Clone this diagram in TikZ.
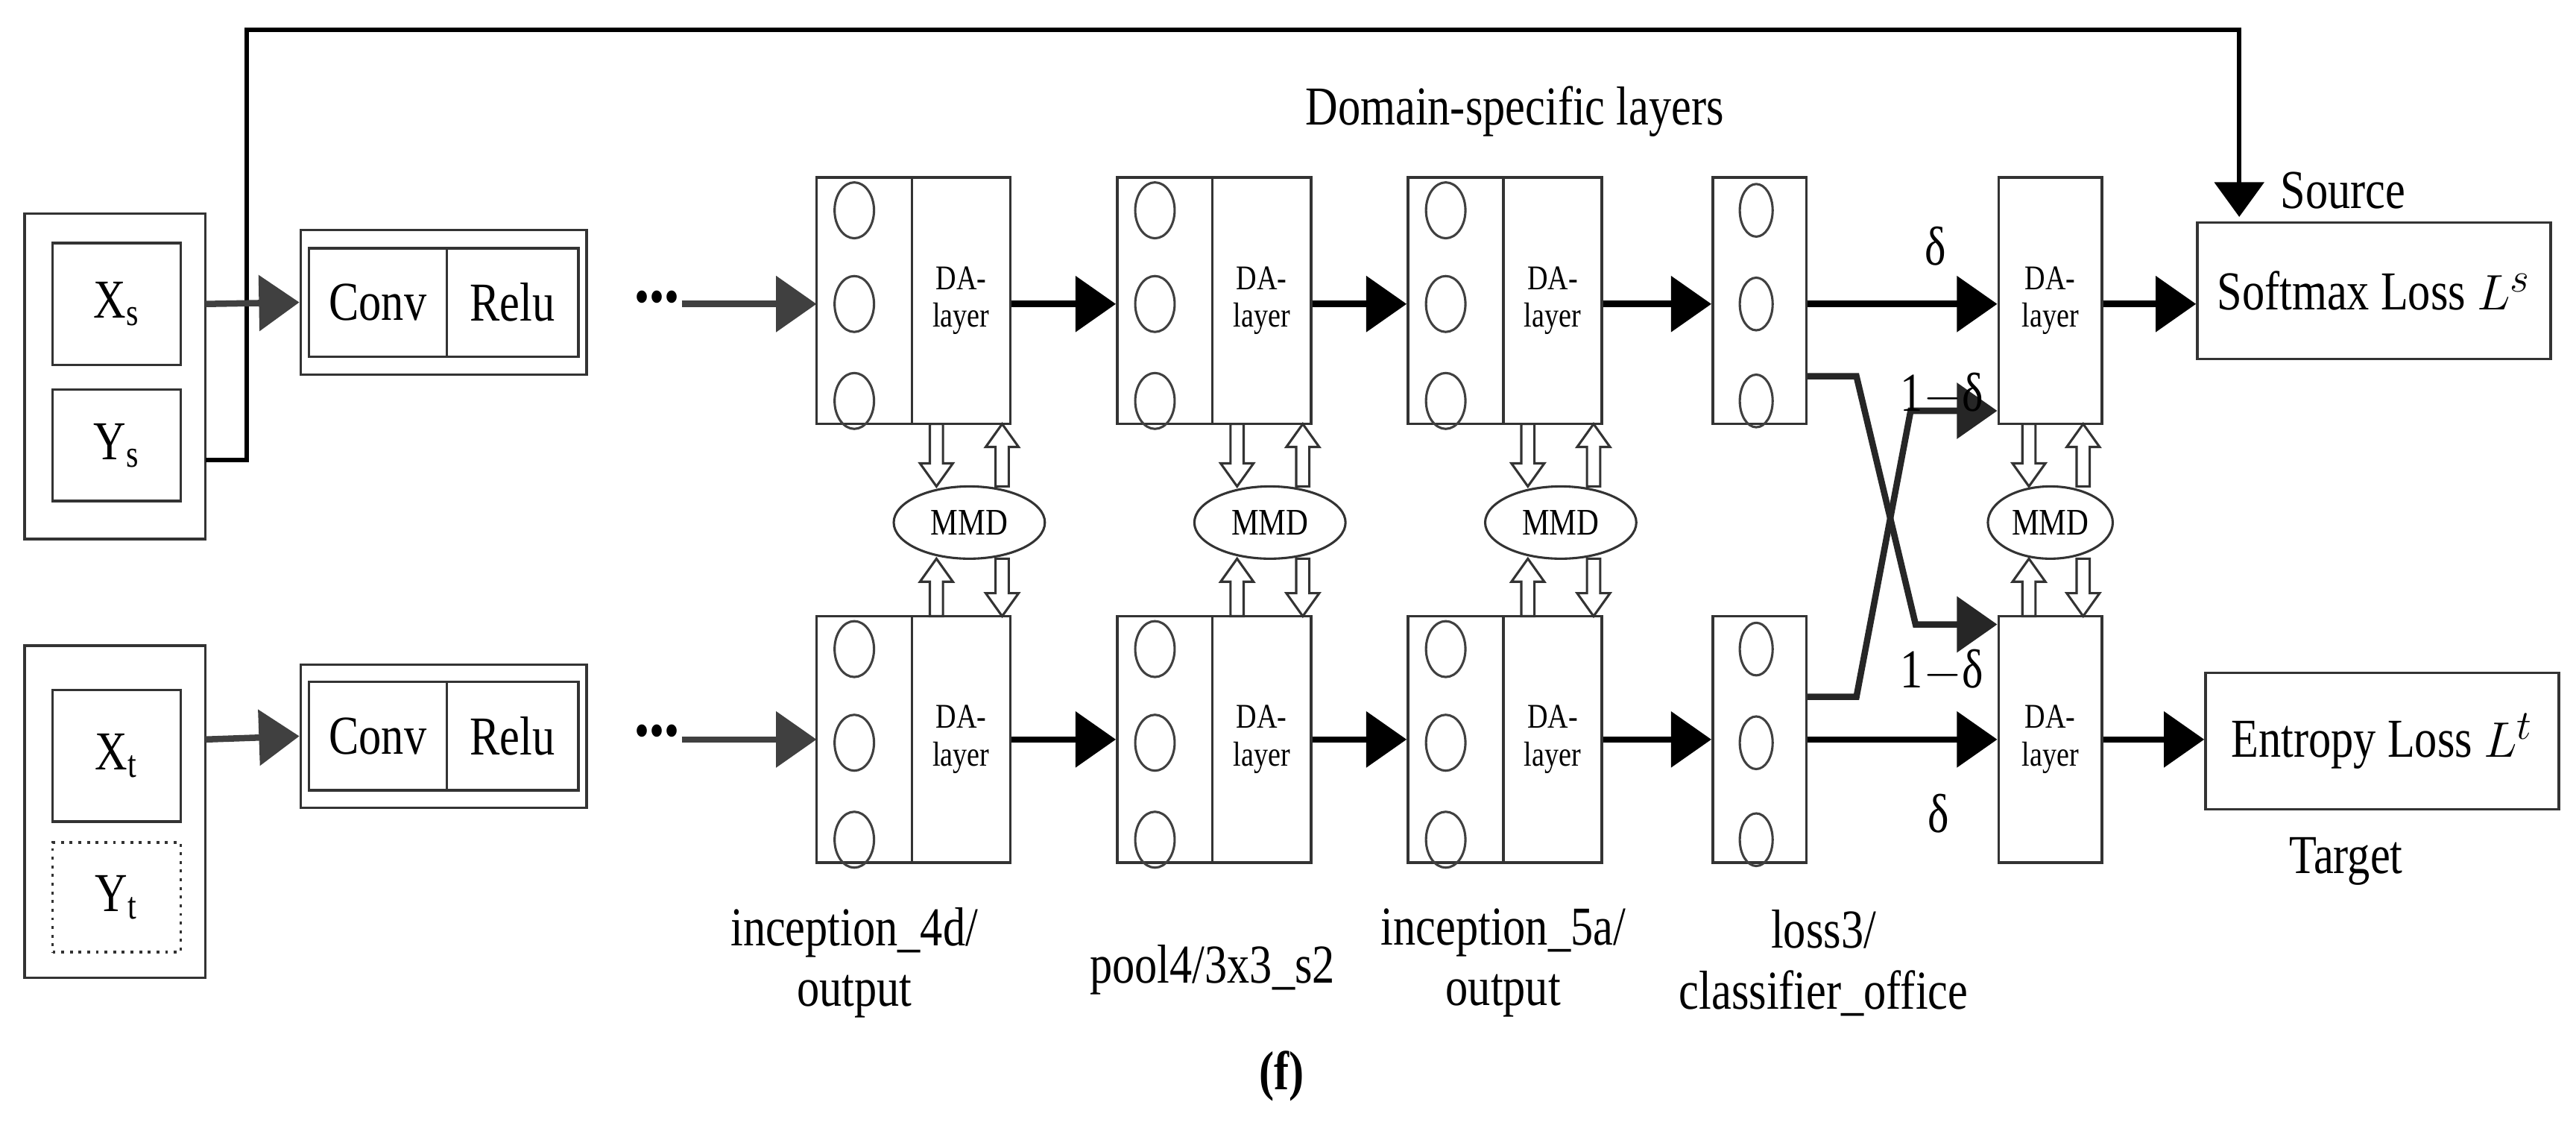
\documentclass[tikz,border=0pt]{standalone}
\usepackage{fontspec}
\setmainfont[FakeStretch=0.82]{Liberation Serif}
\usetikzlibrary{arrows.meta,shapes.geometric}
\begin{document}
\begin{tikzpicture}[x=0.02cm,y=-0.02cm,
 bx/.style={draw=black!80,line width=0.9pt,inner sep=0},
 ar/.style={line width=2.2pt,-{Triangle[length=14pt,width=19pt]}},
 gar/.style={ar,draw=black!75,fill=black!75},
 circ/.style={draw=black!75,line width=0.8pt,ellipse,inner sep=0},
 lab/.style={font=\fontsize{19}{21}\selectfont,align=center},
 da/.style={font=\fontsize{12}{13}\selectfont,align=center},
]
\useasboundingbox (0,0) rectangle (1568,688);
\def\hollow#1#2#3{%
 \pgfmathsetmacro\d{#3>#2?1:-1}
 \draw[black!80,line width=0.8pt,fill=white]
  (#1-4,#2) -- (#1-4,#3-\d*14) -- (#1-10,#3-\d*14) -- (#1,#3) -- (#1+10,#3-\d*14) -- (#1+4,#3-\d*14) -- (#1+4,#2) -- cycle;}
% left input boxes
\node[bx,minimum width=110*0.02cm,minimum height=198*0.02cm] (src) at (70,229) {};
\node[bx,minimum width=78*0.02cm,minimum height=74*0.02cm,lab] (xs) at (71,185) {X\textsubscript{s}};
\node[bx,minimum width=78*0.02cm,minimum height=68*0.02cm,lab] (ys) at (71,271) {Y\textsubscript{s}};
\node[bx,minimum width=110*0.02cm,minimum height=202*0.02cm] (tgt) at (70,494) {};
\node[bx,minimum width=78*0.02cm,minimum height=80*0.02cm,lab] (xt) at (71,460) {X\textsubscript{t}};
\node[draw=black!80,dotted,line width=1pt,inner sep=0,minimum width=78*0.02cm,minimum height=67*0.02cm,lab] (yt) at (71,546) {Y\textsubscript{t}};
% conv relu
\foreach \n/\y/\h in {cs/184/88,ct/448/87}{
 \node[bx,minimum width=174*0.02cm,minimum height=\h*0.02cm] (\n) at (270,\y) {};
 \node[bx,minimum width=84*0.02cm,minimum height=66*0.02cm,lab] (\n c) at (230,\y) {Conv};
 \node[bx,minimum width=80*0.02cm,minimum height=66*0.02cm,lab] (\n r) at (312,\y) {Relu};
 \node[font=\fontsize{18}{18}\selectfont] (\n d) at (400,\y) {•••};
}
\coordinate (ysr) at (125,280);
\draw[line width=1.6pt] (ysr) -- (150,280) -- (150,18) -- (1363,18) -- (1363,120);
\draw[line width=1.6pt,-{Triangle[length=12pt,width=17pt]}] (1363,100) -- (1363,132);
\node[lab,anchor=west] (source) at (1382,116) {Source};
\draw[gar] (125,185) -- (cs.west);
\draw[gar] (125,450) -- (ct.west);
\draw[gar] (415,185) -- (497,185);
\draw[gar] (415,450) -- (497,450);
% layer blocks
\foreach \n/\x in {a/497,b/680,c/857}{
 \foreach \r/\yt in {s/108,t/375}{
  \node[bx,minimum width=58*0.02cm,minimum height=150*0.02cm] (\n\r c) at (\x+29,\yt+75) {};
  \node[bx,minimum width=60*0.02cm,minimum height=150*0.02cm,da] (\n\r d) at (\x+88,\yt+75) {DA-\\layer};
  \foreach \k/\dy in {1/20,2/77,3/136}{\node[circ,minimum width=24*0.02cm,minimum height=34*0.02cm] (\n\r o\k) at (\x+23,\yt+\dy) {};}
 }
 \node[draw=black!80,line width=0.8pt,ellipse,minimum width=92*0.02cm,minimum height=44*0.02cm,inner sep=0,font=\fontsize{13}{14}\selectfont] (\n m) at (\x+93,318) {MMD};
 \hollow{\x+73}{258}{296}
 \hollow{\x+113}{296}{258}
 \hollow{\x+73}{375}{340}
 \hollow{\x+113}{340}{375}
}
% loss3 block
\foreach \r/\yt in {s/108,t/375}{
 \node[bx,minimum width=57*0.02cm,minimum height=150*0.02cm] (d\r c) at (1071,\yt+75) {};
 \foreach \k/\dy in {1/20,2/77,3/136}{\node[circ,minimum width=20*0.02cm,minimum height=32*0.02cm] (d\r o\k) at (1069,\yt+\dy) {};}
 \node[bx,minimum width=63*0.02cm,minimum height=150*0.02cm,da] (e\r d) at (1248,\yt+75) {DA-\\layer};
}
\node[draw=black!80,line width=0.8pt,ellipse,minimum width=76*0.02cm,minimum height=44*0.02cm,inner sep=0,font=\fontsize{13}{14}\selectfont] (em) at (1248,318) {MMD};
\hollow{1235}{258}{296}
\hollow{1268}{296}{258}
\hollow{1235}{375}{340}
\hollow{1268}{340}{375}
% block arrows
\foreach \r/\y in {s/185,t/450}{
 \draw[ar] (a\r d.east |- 0,\y) -- (b\r c.west |- 0,\y);
 \draw[ar] (b\r d.east |- 0,\y) -- (c\r c.west |- 0,\y);
 \draw[ar] (c\r d.east |- 0,\y) -- (d\r c.west |- 0,\y);
 \draw[ar] (d\r c.east |- 0,\y) -- (e\r d.west |- 0,\y);
}
\draw[ar,draw=black!85] (dsc.east |- 0,229) -- (1130,229) -- (1166,380) -- (etd.west |- 0,380);
\draw[ar,draw=black!85] (dtc.east |- 0,424) -- (1130,424) -- (1163,250) -- (esd.west |- 0,250);
% losses
\node[bx,minimum width=215*0.02cm,minimum height=83*0.02cm,lab] (soft) at (1445,177) {Softmax Loss $L^{s}$};
\node[bx,minimum width=215*0.02cm,minimum height=83*0.02cm,lab] (ent) at (1450,451) {Entropy Loss $L^{t}$};
\draw[ar] (esd.east |- 0,185) -- (soft.west |- 0,185);
\draw[ar] (etd.east |- 0,450) -- (ent.west |- 0,450);
% labels
\node[lab] (l1) at (1178,150) {δ};
\node[lab] (l2) at (1182,240) {1$-$δ};
\node[lab] (l3) at (1182,408) {1$-$δ};
\node[lab] (l4) at (1180,495) {δ};
\node[lab] (dsl) at (922,68) {Domain-specific layers};
\node[lab] (target) at (1428,524) {Target};
\node[lab] (b1) at (520,586) {inception\_4d/\\output};
\node[lab] (b2) at (738,590) {pool4/3x3\_s2};
\node[lab] (b3) at (915,586) {inception\_5a/\\output};
\node[lab] (b4) at (1110,586) {loss3/\\classifier\_office};
\node[lab,font=\bfseries\fontsize{19}{21}\selectfont] (f) at (780,655) {(f)};
\end{tikzpicture}
\end{document}
